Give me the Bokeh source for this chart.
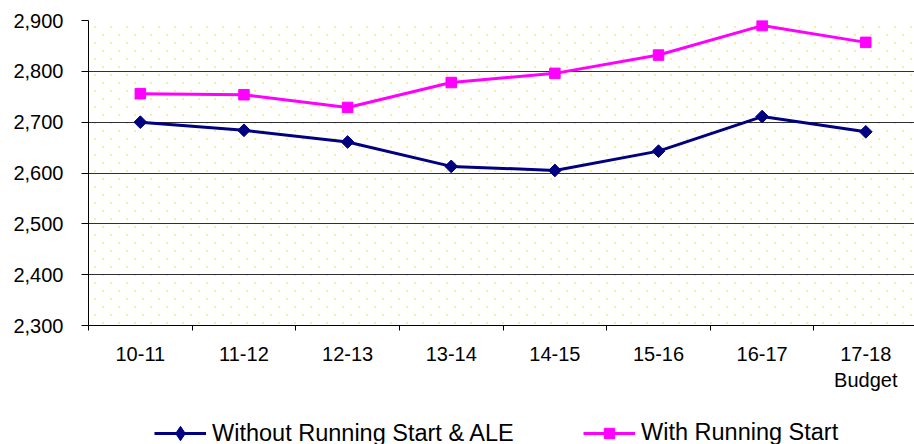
import base64
import struct
import zlib

from bokeh.plotting import figure
from bokeh.layouts import column
from bokeh.models import (Range1d, FixedTicker, NumeralTickFormatter, Legend,
                          LegendItem, BoxAnnotation, ColumnDataSource, ImageURLTexture)
from bokeh.embed import file_html
from bokeh.resources import INLINE
import numpy as np

# School years shown on the x axis
years = ["10-11", "11-12", "12-13", "13-14", "14-15", "15-16", "16-17", "17-18\nBudget"]
# Enrollment series
without_rs_ale = [2700, 2684, 2661, 2613, 2605, 2643, 2711, 2681]
with_rs = [2756, 2754, 2729, 2778, 2796, 2832, 2890, 2857]
# Value axis ticks
y_ticks = [2300, 2400, 2500, 2600, 2700, 2800, 2900]
# Series names
series_names = ["Without Running Start & ALE", "With Running Start"]

FONT = "Liberation Sans"
NAVY = "#000080"
MAGENTA = "#FF00FF"


def dot_tile_png(size=16, rgb=(0xF2, 0xF2, 0xA0)):
    """Small RGBA tile with two staggered 2x2 dots, returned as a data URL."""
    px = [[(0, 0, 0, 0)] * size for _ in range(size)]
    for ox, oy in ((6, 2), (14, 10)):
        for dy in range(2):
            for dx in range(2):
                px[oy + dy][ox + dx] = (*rgb, 255)
    raw = b"".join(b"\x00" + bytes(c for p in row for c in p) for row in px)

    def chunk(tag, data):
        return (struct.pack(">I", len(data)) + tag + data +
                struct.pack(">I", zlib.crc32(tag + data) & 0xFFFFFFFF))

    png = (b"\x89PNG\r\n\x1a\n" +
           chunk(b"IHDR", struct.pack(">IIBBBBB", size, size, 8, 6, 0, 0, 0)) +
           chunk(b"IDAT", zlib.compress(raw)) + chunk(b"IEND", b""))
    return "data:image/png;base64," + base64.b64encode(png).decode()


# categories sit at the middle of unit-wide slots
centers = [i + 0.5 for i in range(len(years))]
bounds = list(range(len(years) + 1))

src = ColumnDataSource(dict(x=centers, a=without_rs_ale, b=with_rs))

p = figure(width=914, height=400, output_backend="svg", toolbar_location=None,
           x_range=Range1d(0, 7.97), y_range=Range1d(y_ticks[0], y_ticks[-1]),
           min_border_left=88, min_border_right=0, min_border_top=20,
           min_border_bottom=75)
p.outline_line_color = None
p.background_fill_color = "white"
p.border_fill_color = "white"

# faint staggered dot texture behind the plotting area
p.add_layout(BoxAnnotation(fill_alpha=0, line_alpha=0, hatch_pattern="dots",
                           hatch_extra={"dots": ImageURLTexture(url=dot_tile_png())},
                           level="image"))

# y axis
p.yaxis.ticker = FixedTicker(ticks=y_ticks)
p.yaxis.formatter = NumeralTickFormatter(format="0,0")
p.yaxis.major_tick_out = 7
p.yaxis.major_tick_in = 0
p.yaxis.minor_tick_line_color = None
p.yaxis.axis_line_color = "black"
p.yaxis.major_tick_line_color = "black"
p.yaxis.major_label_standoff = 18
p.yaxis.major_label_text_font = FONT
p.yaxis.major_label_text_font_size = "20px"
p.yaxis.major_label_text_color = "black"

# x axis: labels at slot centres, tick marks at slot boundaries
p.xaxis.ticker = FixedTicker(ticks=centers, minor_ticks=bounds)
p.xaxis.major_label_overrides = {c: y for c, y in zip(centers, years)}
p.xaxis.major_tick_out = 0
p.xaxis.major_tick_in = 0
p.xaxis.major_tick_line_color = None
p.xaxis.minor_tick_out = 5
p.xaxis.minor_tick_in = 0
p.xaxis.minor_tick_line_color = "black"
p.xaxis.axis_line_color = "black"
p.xaxis.major_label_standoff = 12
p.xaxis.major_label_text_font = FONT
p.xaxis.major_label_text_font_size = "20px"
p.xaxis.major_label_text_color = "black"

# grid
p.xgrid.grid_line_color = None
p.ygrid.ticker = FixedTicker(ticks=y_ticks[1:-1])
p.ygrid.grid_line_color = "#303030"
p.ygrid.grid_line_width = 1


def add_series(fig, source, ycol, color, marker_kw):
    ln = fig.line("x", ycol, source=source, line_color=color, line_width=3)
    sc = fig.scatter("x", ycol, source=source, fill_color=color, line_color=color,
                     line_width=1, **marker_kw)
    return ln, sc


square_kw = dict(marker="square", size=10.5)

# chart: diamonds as squares turned by 45 degrees
add_series(p, src, "a", NAVY, dict(marker="square", angle=np.pi / 4, size=9))
add_series(p, src, "b", MAGENTA, square_kw)

# legend strip underneath the chart; its renderers share the data but lie
# outside this strip's view, so only the legend entries show
leg_fig = figure(width=914, height=44, output_backend="svg", toolbar_location=None,
                 x_axis_type=None, y_axis_type=None, min_border=0,
                 x_range=Range1d(0, 1), y_range=Range1d(0, 1))
leg_fig.outline_line_color = None
leg_fig.grid.visible = False
ra = add_series(leg_fig, src, "a", NAVY, dict(marker="diamond", size=14))
rb = add_series(leg_fig, src, "b", MAGENTA, square_kw)

legend_style = dict(orientation="horizontal", padding=0, margin=0, label_standoff=6,
                    glyph_width=52, label_height=24, border_line_color=None,
                    background_fill_alpha=0, label_text_font=FONT,
                    label_text_font_size="23.5px", label_text_color="black")

# one legend per entry so each marker keeps its own size
leg_fig.add_layout(Legend(items=[LegendItem(label=series_names[0], renderers=list(ra))],
                          location=(66, -7), glyph_height=36, **legend_style))
leg_fig.add_layout(Legend(items=[LegendItem(label=series_names[1], renderers=list(rb))],
                          location=(495, -2), glyph_height=26, **legend_style))

layout = column(p, leg_fig, spacing=0)
open("out.html", "w").write(file_html(layout, INLINE))
